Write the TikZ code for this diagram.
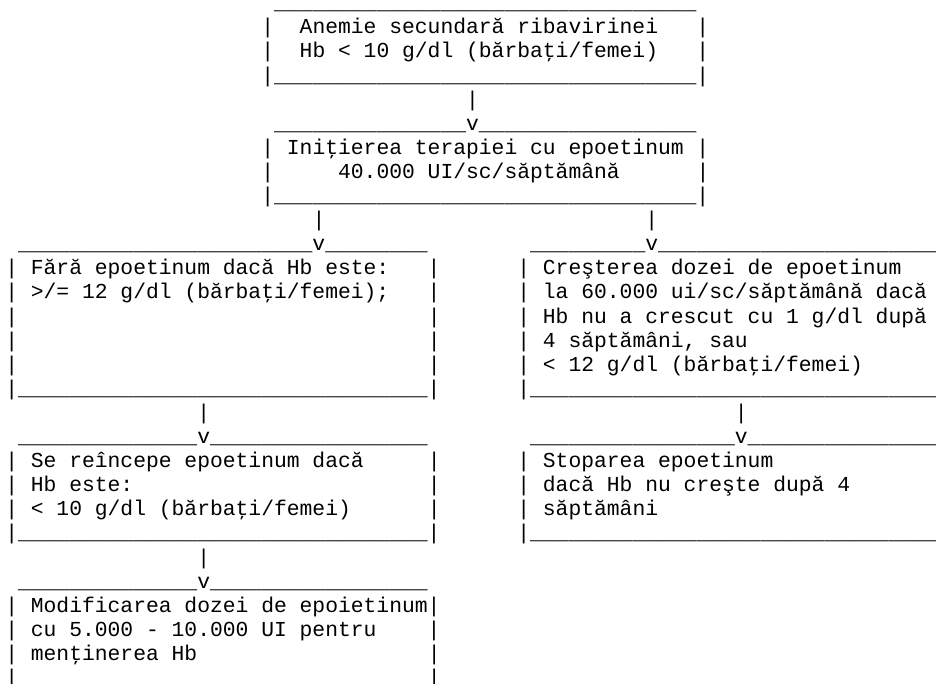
\documentclass[tikz,border=0pt]{standalone}
\usepackage{fontspec}
\newfontfamily\monofont{Liberation Mono}

% repeat a token list a given number of times
\ExplSyntaxOn
\cs_new:Npn \dupe #1#2 { \prg_replicate:nn {#1} {#2} }
\ExplSyntaxOff
\newcommand\unders[1]{\dupe{#1}{\_}}
\newcommand\blanks[1]{\dupe{#1}{~}}

% one line of the character grid: name, column, row, text
\newcommand\putrow[4]{%
  \node[ascii] (#1) at ({5.3+12.8*(#2)},{9.7+24.1*(#3)}) {#4};}

\begin{document}
\begin{tikzpicture}[x=0.75pt, y=-0.75pt,
  ascii/.style={anchor=base west, inner sep=0pt, outer sep=0pt,
    font=\monofont\fontsize{16}{18}\selectfont, text=black}]
\fill[white] (0,0) rectangle (936,683);
\useasboundingbox (0,0) rectangle (936,683);
\clip (0,0) rectangle (936,683);

% anaemia box
\putrow{anemia-top}{21}{0}{\unders{33}}
\putrow{anemia-1}{20}{1}{|\blanks{2}Anemie secundară ribavirinei\blanks{3}|}
\putrow{anemia-2}{20}{2}{|\blanks{2}Hb < 10 g/dl (bărbaţi/femei)\blanks{3}|}
\putrow{anemia-bot}{20}{3}{|\unders{33}|}
\putrow{link-a}{36}{4}{|}

% start of therapy
\putrow{init-top}{21}{5}{\unders{15}v\unders{17}}
\putrow{init-1}{20}{6}{| Iniţierea terapiei cu epoetinum |}
\putrow{init-2}{20}{7}{|\blanks{5}40.000 UI/sc/săptămână\blanks{6}|}
\putrow{init-bot}{20}{8}{|\unders{33}|}
\putrow{link-b}{24}{9}{|}
\putrow{link-c}{50}{9}{|}

% left branch: pause
\putrow{pause-top}{1}{10}{\unders{23}v\unders{8}}
\putrow{pause-1}{0}{11}{| Fără epoetinum dacă Hb este:\blanks{3}|}
\putrow{pause-2}{0}{12}{| >/= 12 g/dl (bărbaţi/femei);\blanks{3}|}
\putrow{pause-3}{0}{13}{|\blanks{32}|}
\putrow{pause-4}{0}{14}{|\blanks{32}|}
\putrow{pause-5}{0}{15}{|\blanks{32}|}
\putrow{pause-bot}{0}{16}{|\unders{32}|}

% right branch: dose increase
\putrow{raise-top}{41}{10}{\unders{9}v\unders{23}}
\putrow{raise-1}{40}{11}{| Creşterea dozei de epoetinum}
\putrow{raise-2}{40}{12}{| la 60.000 ui/sc/săptămână dacă}
\putrow{raise-3}{40}{13}{| Hb nu a crescut cu 1 g/dl după}
\putrow{raise-4}{40}{14}{| 4 săptămâni, sau}
\putrow{raise-5}{40}{15}{| < 12 g/dl (bărbaţi/femei)}
\putrow{raise-bot}{40}{16}{|\unders{33}}
\putrow{link-d}{15}{17}{|}
\putrow{link-e}{57}{17}{|}

% restart
\putrow{restart-top}{1}{18}{\unders{14}v\unders{17}}
\putrow{restart-1}{0}{19}{| Se reîncepe epoetinum dacă\blanks{5}|}
\putrow{restart-2}{0}{20}{| Hb este:\blanks{23}|}
\putrow{restart-3}{0}{21}{| < 10 g/dl (bărbaţi/femei)\blanks{6}|}
\putrow{restart-bot}{0}{22}{|\unders{32}|}
\putrow{link-f}{15}{23}{|}

% stop
\putrow{halt-top}{41}{18}{\unders{16}v\unders{16}}
\putrow{halt-1}{40}{19}{| Stoparea epoetinum}
\putrow{halt-2}{40}{20}{| dacă Hb nu creşte după 4}
\putrow{halt-3}{40}{21}{| săptămâni}
\putrow{halt-bot}{40}{22}{|\unders{33}}

% dose adjustment
\putrow{adjust-top}{1}{24}{\unders{14}v\unders{17}}
\putrow{adjust-1}{0}{25}{| Modificarea dozei de epoietinum|}
\putrow{adjust-2}{0}{26}{| cu 5.000 - 10.000 UI pentru\blanks{4}|}
\putrow{adjust-3}{0}{27}{| menţinerea Hb\blanks{18}|}
\putrow{adjust-4}{0}{28}{|\blanks{32}|}
\end{tikzpicture}
\end{document}
